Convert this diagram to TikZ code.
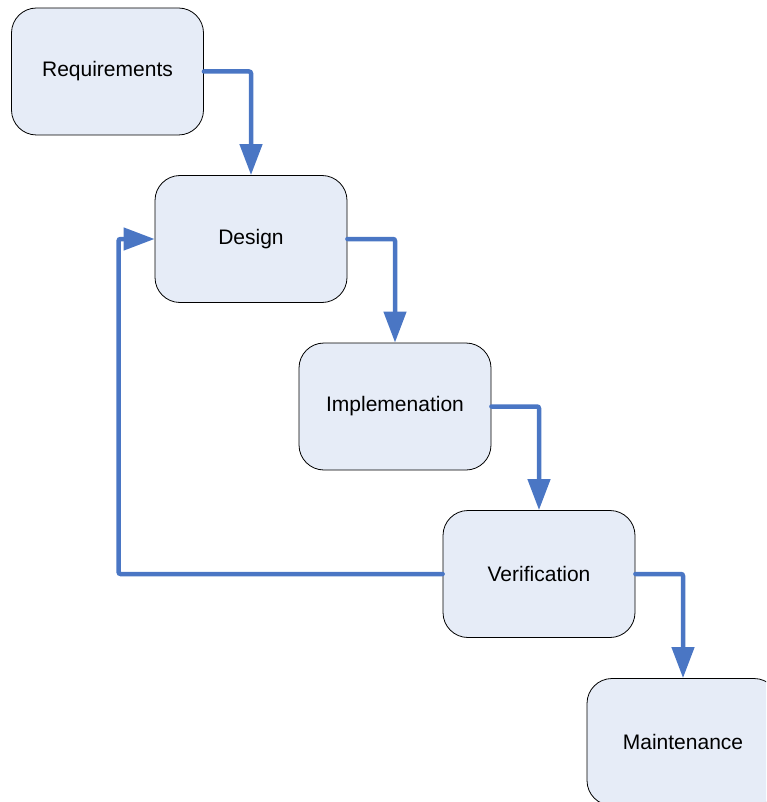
\documentclass[tikz,border=0pt]{standalone}
\usepackage{fontspec}
\setmainfont{Liberation Sans}
\usetikzlibrary{arrows.meta}

\definecolor{boxfill}{HTML}{E6ECF7}
\definecolor{flowblue}{HTML}{4A76C4}

\begin{document}
\begin{tikzpicture}[x=1pt,y=-1pt,every node/.style = {draw, line width=0.8pt, fill=boxfill, shape=rectangle, rounded corners=25pt, minimum width=192pt, minimum height=127pt, align=center, font=\fontsize{21}{25}\selectfont},
flow/.style = {draw=flowblue, line width=4.5pt, line cap=round, rounded corners=2pt, -{Triangle[length=31pt,width=22pt]}}]
\useasboundingbox (0,0) rectangle (766,802);
\clip (0,0) rectangle (766,802);
\node(req) at (107.5,71.5) {Requirements};
\node(des) at (251,239) {Design};
\node(imp) at (395,406.5) {Implemenation};
\node(ver) at (539,574) {Verification};
\node(mai) at (683,742) {Maintenance};
\draw[flow] (req.east) -| (des.north);
\draw[flow] (des.east) -| (imp.north);
\draw[flow] (imp.east) -| (ver.north);
\draw[flow] (ver.east) -| (mai.north);
\draw[flow] (ver.west) -- ++(-324,0) |- (des.west);
\end{tikzpicture}
\end{document}
